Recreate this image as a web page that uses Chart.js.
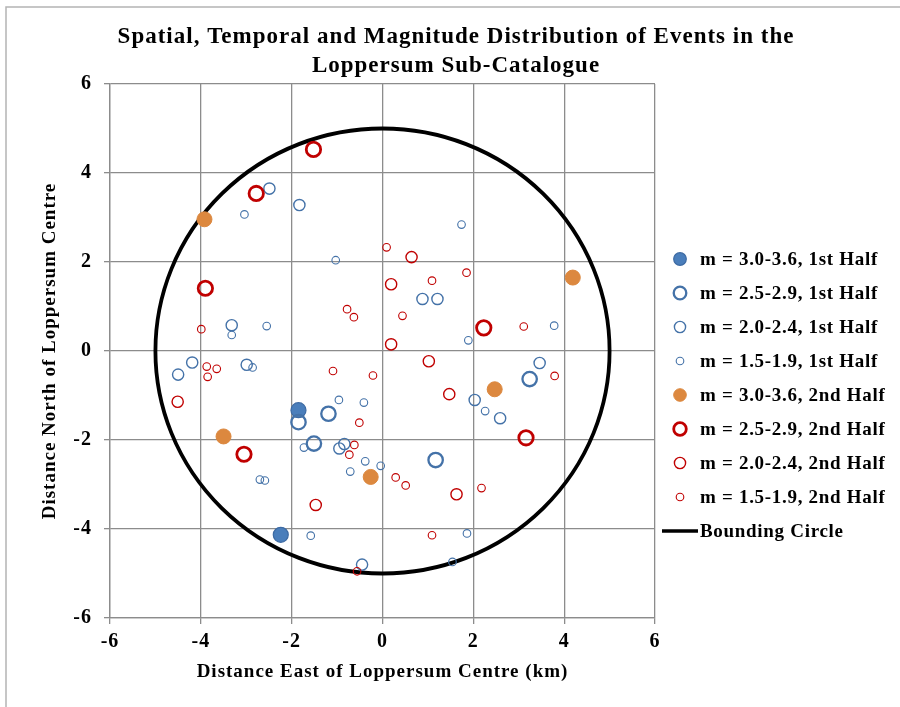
<!DOCTYPE html>
<html>
<head>
<meta charset="utf-8">
<script src="https://cdn.jsdelivr.net/npm/chart.js@4.4.1/dist/chart.umd.min.js"></script>
<style>
    html, body { margin: 0; padding: 0; background: #fff; }
</style>
</head>
<body>
<canvas id="chart" width="900" height="707"></canvas>
<script>
// Event locations, [km east, km north] of Loppersum centre
const firstHalfM30 = [[-1.85, -1.33], [-2.24, -4.13]];
const firstHalfM25 = [[-1.85, -1.60], [-1.19, -1.41], [-1.51, -2.08], [3.24, -0.63], [1.17, -2.45]];
const firstHalfM20 = [
    [-2.49, 3.65], [-1.83, 3.28], [-3.32, 0.58], [0.88, 1.17], [1.21, 1.17], [3.46, -0.27],
    [2.03, -1.10], [2.59, -1.51], [-4.19, -0.26], [-4.50, -0.53], [-2.99, -0.31],
    [-0.95, -2.19], [-0.84, -2.09], [-0.45, -4.80]
];
const firstHalfM15 = [
    [-3.04, 3.07], [-1.03, 2.04], [-3.32, 0.36], [-2.55, 0.56], [1.74, 2.84], [3.78, 0.57],
    [1.89, 0.24], [2.26, -1.35], [-0.04, -2.58], [1.86, -4.10], [1.54, -4.74], [-2.86, -0.37],
    [-0.96, -1.10], [-0.41, -1.16], [-1.73, -2.17], [-0.38, -2.48], [-0.71, -2.71],
    [-2.70, -2.89], [-2.59, -2.91], [-1.58, -4.15]
];
const secondHalfM30 = [[-3.92, 2.96], [4.19, 1.65], [2.47, -0.86], [-3.50, -1.92], [-0.26, -2.83]];
const secondHalfM25 = [[-1.52, 4.53], [-2.78, 3.54], [-3.90, 1.41], [2.23, 0.52], [3.16, -1.95], [-3.05, -2.32]];
const secondHalfM20 = [
    [0.64, 2.11], [0.19, 1.50], [0.19, 0.15], [1.02, -0.23], [1.47, -0.97], [1.63, -3.22],
    [-4.51, -1.14], [-1.47, -3.46]
];
const secondHalfM15 = [
    [0.09, 2.33], [-0.78, 0.94], [-0.63, 0.76], [-3.99, 0.49], [1.09, 1.58], [1.85, 1.76],
    [0.44, 0.79], [3.11, 0.55], [3.79, -0.56], [0.29, -2.84], [0.51, -3.02], [2.18, -3.08],
    [1.09, -4.14], [-3.87, -0.35], [-3.65, -0.40], [-3.85, -0.58], [-1.09, -0.45], [-0.21, -0.55],
    [-0.51, -1.61], [-0.62, -2.11], [-0.73, -2.33], [-0.56, -4.95]
];

const seriesLabels = [
    "m = 3.0-3.6, 1st Half", "m = 2.5-2.9, 1st Half", "m = 2.0-2.4, 1st Half", "m = 1.5-1.9, 1st Half",
    "m = 3.0-3.6, 2nd Half", "m = 2.5-2.9, 2nd Half", "m = 2.0-2.4, 2nd Half", "m = 1.5-1.9, 2nd Half"
];
const circleLabel = "Bounding Circle";
const circleRadius = 5;
const axisTicks = [-6, -4, -2, 0, 2, 4, 6];
const titleLines = ["Spatial, Temporal and Magnitude Distribution of Events in the",
    "Loppersum Sub-Catalogue"];

const FONT = "'Liberation Serif', 'DejaVu Serif', serif";
const BLUE = '#4472a8';
const RED = '#c00000';
const ORANGE = '#dc883f';
const NONE = 'rgba(0,0,0,0)';
const GRID = '#8c8c8c';

// marker styles: fill, stroke, radius, stroke width
const markerStyles = [
    {fill: '#4a7ebb', stroke: '#3d6aa3', r: 7.5, w: 1.2},
    {fill: NONE, stroke: BLUE, r: 7.2, w: 2.3},
    {fill: NONE, stroke: BLUE, r: 5.6, w: 1.4},
    {fill: NONE, stroke: BLUE, r: 3.8, w: 1.1},
    {fill: ORANGE, stroke: ORANGE, r: 7.5, w: 1},
    {fill: NONE, stroke: RED, r: 7.2, w: 2.8},
    {fill: NONE, stroke: RED, r: 5.6, w: 1.4},
    {fill: NONE, stroke: RED, r: 3.8, w: 1.1}
];
const seriesData = [firstHalfM30, firstHalfM25, firstHalfM20, firstHalfM15,
    secondHalfM30, secondHalfM25, secondHalfM20, secondHalfM15];

function toPoints(pairs) {
    return pairs.map(p => ({x: p[0], y: p[1]}));
}

// the reference font runs wider than Liberation Serif, so space the letters a bit
const spacingPlugin = {
    id: 'spacing',
    beforeUpdate(chart) { chart.ctx.letterSpacing = '1px'; },
    beforeDraw(chart) { chart.ctx.letterSpacing = '1px'; }
};

// bounding circle, drawn under the events
const circlePlugin = {
    id: 'boundingCircle',
    beforeDatasetsDraw(chart) {
        const {ctx, scales: {x, y}} = chart;
        const cx = x.getPixelForValue(0);
        const cy = y.getPixelForValue(0);
        const rx = x.getPixelForValue(circleRadius) - cx;
        const ry = cy - y.getPixelForValue(circleRadius);
        ctx.save();
        ctx.beginPath();
        ctx.ellipse(cx, cy, rx, ry, 0, 0, Math.PI * 2);
        ctx.lineWidth = 3.8;
        ctx.strokeStyle = '#000';
        ctx.stroke();
        ctx.restore();
    }
};

// white background, frame of the chart object and the title
const framePlugin = {
    id: 'frame',
    beforeDraw(chart) {
        const ctx = chart.ctx;
        ctx.save();
        ctx.fillStyle = '#fff';
        ctx.fillRect(0, 0, chart.width, chart.height);
        ctx.strokeStyle = '#b4b4b4';
        ctx.lineWidth = 1.5;
        ctx.beginPath();
        ctx.moveTo(6, chart.height);
        ctx.lineTo(6, 7);
        ctx.lineTo(chart.width, 7);
        ctx.stroke();

        ctx.font = "bold 23px " + FONT;
        ctx.letterSpacing = '1px';
        ctx.fillStyle = '#000';
        ctx.textAlign = 'center';
        ctx.textBaseline = 'middle';
        titleLines.forEach((line, i) => ctx.fillText(line, 456, 37 + i * 29));
        ctx.restore();
    }
};

// legend on the right side
const legendPlugin = {
    id: 'sideLegend',
    afterDraw(chart) {
        const ctx = chart.ctx;
        const area = chart.chartArea;
        const markerX = area.right + 25;
        const textX = area.right + 45;
        let rowY = 259;
        ctx.save();
        ctx.font = "bold 19px " + FONT;
        ctx.letterSpacing = '0.7px';
        ctx.textAlign = 'left';
        ctx.textBaseline = 'middle';
        chart.data.datasets.forEach((ds, i) => {
            const st = markerStyles[i];
            if (st) {
                ctx.beginPath();
                ctx.arc(markerX, rowY, Math.min(st.r, 6.3), 0, Math.PI * 2);
                ctx.fillStyle = st.fill;
                ctx.fill();
                ctx.lineWidth = st.w;
                ctx.strokeStyle = st.stroke;
                ctx.stroke();
            } else {
                ctx.beginPath();
                ctx.moveTo(area.right + 7, rowY);
                ctx.lineTo(area.right + 43, rowY);
                ctx.lineWidth = 3.5;
                ctx.strokeStyle = '#000';
                ctx.stroke();
            }
            ctx.fillStyle = '#000';
            ctx.fillText(ds.label, textX, rowY + 1);
            rowY += 34;
        });
        ctx.restore();
    }
};

const datasets = seriesData.map((pairs, i) => ({
    label: seriesLabels[i],
    data: toPoints(pairs),
    pointRadius: markerStyles[i].r,
    pointHoverRadius: markerStyles[i].r,
    pointBorderWidth: markerStyles[i].w,
    pointBackgroundColor: markerStyles[i].fill,
    pointBorderColor: markerStyles[i].stroke,
    showLine: false,
    order: -i
}));
datasets.push({label: circleLabel, data: [], showLine: false, order: 1});

const tickFont = {family: FONT, size: 20, weight: 'bold'};
const titleFont = {family: FONT, size: 19, weight: 'bold'};

new Chart(document.getElementById('chart'), {
    type: 'scatter',
    data: {datasets: datasets},
    options: {
        responsive: false,
        animation: false,
        layout: {padding: {left: 36, right: 245, top: 84, bottom: 9}},
        plugins: {
            legend: {display: false},
            tooltip: {enabled: false},
            title: {display: false}
        },
        scales: {
            x: {
                type: 'linear',
                min: -6,
                max: 6,
                afterBuildTicks: s => { s.ticks = axisTicks.map(v => ({value: v})); },
                afterFit: s => { s.height = 80; },
                grid: {color: GRID, lineWidth: 1.3, tickLength: 6},
                border: {color: GRID, width: 1.3},
                ticks: {color: '#000', font: tickFont, padding: 6, maxRotation: 0},
                title: {
                    display: true,
                    text: "Distance East of Loppersum Centre (km)",
                    color: '#000',
                    font: titleFont,
                    padding: {top: 0, bottom: 15}
                }
            },
            y: {
                type: 'linear',
                min: -6,
                max: 6,
                afterBuildTicks: s => { s.ticks = axisTicks.map(v => ({value: v})); },
                afterFit: s => { s.width = 74; },
                grid: {color: GRID, lineWidth: 1.3, tickLength: 6},
                border: {color: GRID, width: 1.3},
                ticks: {color: '#000', font: tickFont, padding: 12},
                title: {
                    display: true,
                    text: "Distance North of Loppersum Centre",
                    color: '#000',
                    font: titleFont,
                    padding: {top: 3, bottom: 0}
                }
            }
        }
    },
    plugins: [spacingPlugin, framePlugin, circlePlugin, legendPlugin]
});
</script>
</body>
</html>
